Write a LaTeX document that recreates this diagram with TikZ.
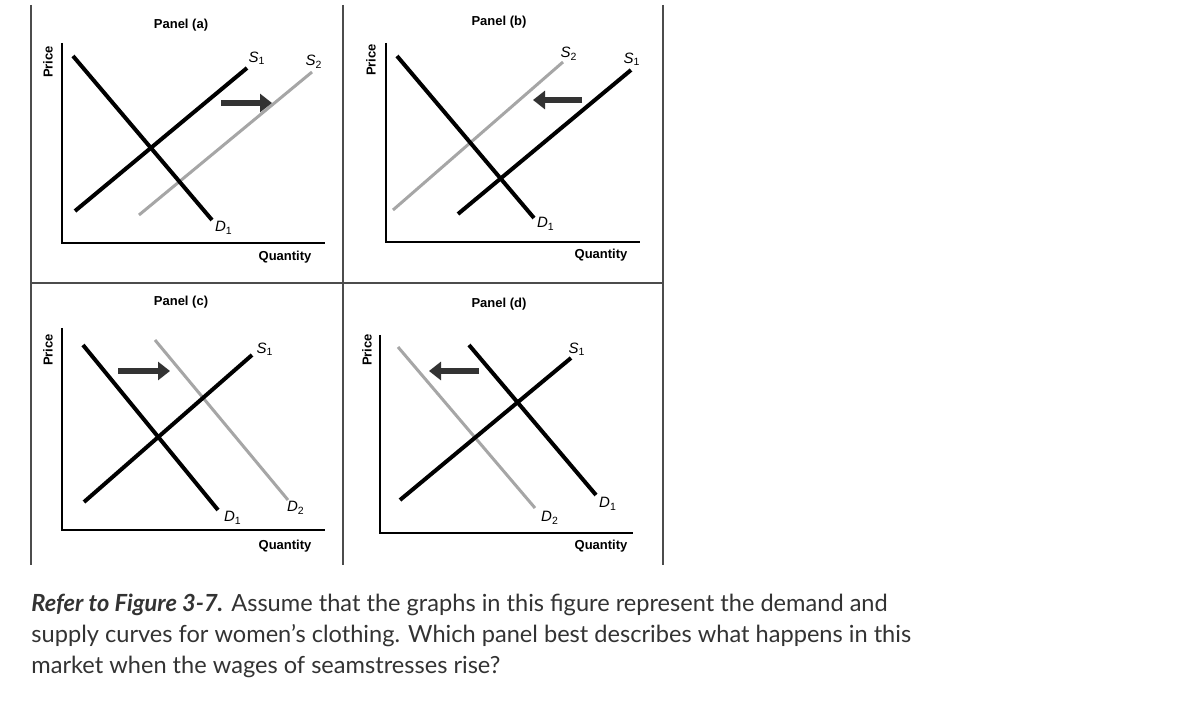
\documentclass[tikz,border=0pt]{standalone}
\usepackage{fontspec}
\setmainfont{Lato}
\newfontfamily\arial{Liberation Sans}
\usetikzlibrary{arrows.meta}
\tikzset{
  frame/.style={draw=black!70,line width=0.6pt},
  axis/.style={draw=black,line width=0.9pt},
  blk/.style={draw=black,line width=2pt},
  gry/.style={draw=black!35,line width=1.5pt},
  shiftarrow/.style={draw=black!80,line width=3.2pt,-{Triangle[length=6pt,width=9pt]}},
  ttl/.style={font=\arial\bfseries\fontsize{6.5}{7}\selectfont},
  lbl/.style={font=\arial\itshape\fontsize{7.5}{8}\selectfont},
  captxt/.style={anchor=west,font=\fontsize{11.8}{14}\selectfont,text=black!80,inner sep=0pt}
}
\newcommand{\sub}[2]{#1\textsubscript{\upshape #2}}
\begin{document}
\begin{tikzpicture}[x=0.5pt,y=-0.5pt]
\useasboundingbox (0,0) rectangle (1196,701);
\fill[white] (0,0) rectangle (1196,701);
% frames
\coordinate (f1) at (31,5); \coordinate (f2) at (31,565);
\coordinate (f3) at (343,5); \coordinate (f4) at (343,565);
\coordinate (f5) at (663,5); \coordinate (f6) at (663,565);
\coordinate (f7) at (31,283); \coordinate (f8) at (663,283);
\draw[frame] (f1)--(f2) (f3)--(f4) (f5)--(f6) (f7)--(f8);
% Panel (a)
\node[ttl] (ta) at (181,25) {Panel (a)};
\node[ttl,rotate=90] (pa) at (48,62) {Price};
\node[ttl] (qa) at (285,257) {Quantity};
\coordinate (ay) at (62,43); \coordinate (ao) at (62,243); \coordinate (ax) at (325,243);
\draw[axis] (ay)--(ao)--(ax);
\coordinate (ad1) at (73,56); \coordinate (ad2) at (212,220);
\coordinate (as1) at (75,211); \coordinate (as2) at (247,68);
\coordinate (at1) at (139,215); \coordinate (at2) at (312,72);
\draw[gry] (at1)--(at2);
\draw[blk] (ad1)--(ad2); \draw[blk] (as1)--(as2);
\coordinate (aa1) at (221,103); \coordinate (aa2) at (272,103);
\draw[shiftarrow] (aa1)--(aa2);
\node[lbl] (la1) at (257,58) {\sub{S}{1}};
\node[lbl] (la2) at (314,62) {\sub{S}{2}};
\node[lbl] (la3) at (224,228) {\sub{D}{1}};
% Panel (b)
\node[ttl] (tb) at (499,22) {Panel (b)};
\node[ttl,rotate=90] (pb) at (371,60) {Price};
\node[ttl] (qb) at (601,255) {Quantity};
\coordinate (by) at (386,43); \coordinate (bo) at (386,242); \coordinate (bx) at (640,242);
\draw[axis] (by)--(bo)--(bx);
\coordinate (bd1) at (397,56); \coordinate (bd2) at (534,218);
\coordinate (bt1) at (393,210); \coordinate (bt2) at (563,62);
\coordinate (bs1) at (458,214); \coordinate (bs2) at (631,70);
\draw[gry] (bt1)--(bt2);
\draw[blk] (bd1)--(bd2); \draw[blk] (bs1)--(bs2);
\coordinate (ba1) at (582,100); \coordinate (ba2) at (533,100);
\draw[shiftarrow] (ba1)--(ba2);
\node[lbl] (lb1) at (569,54) {\sub{S}{2}};
\node[lbl] (lb2) at (632,59) {\sub{S}{1}};
\node[lbl] (lb3) at (546,224) {\sub{D}{1}};
% Panel (c)
\node[ttl] (tc) at (181,302) {Panel (c)};
\node[ttl,rotate=90] (pc) at (48,350) {Price};
\node[ttl] (qc) at (285,546) {Quantity};
\coordinate (cy) at (62,328); \coordinate (co) at (62,530); \coordinate (cx) at (325,530);
\draw[axis] (cy)--(co)--(cx);
\coordinate (cd1) at (83,345); \coordinate (cd2) at (218,510);
\coordinate (cs1) at (84,502); \coordinate (cs2) at (252,355);
\coordinate (ct1) at (155,340); \coordinate (ct2) at (288,500);
\draw[gry] (ct1)--(ct2);
\draw[blk] (cd1)--(cd2); \draw[blk] (cs1)--(cs2);
\coordinate (ca1) at (118,371); \coordinate (ca2) at (170,371);
\draw[shiftarrow] (ca1)--(ca2);
\node[lbl] (lc1) at (265,349) {\sub{S}{1}};
\node[lbl] (lc2) at (296,508) {\sub{D}{2}};
\node[lbl] (lc3) at (233,518) {\sub{D}{1}};
% Panel (d)
\node[ttl] (td) at (499,304) {Panel (d)};
\node[ttl,rotate=90] (pd) at (367,350) {Price};
\node[ttl] (qd) at (601,546) {Quantity};
\coordinate (dy) at (380,335); \coordinate (do) at (380,533); \coordinate (dx) at (633,533);
\draw[axis] (dy)--(do)--(dx);
\coordinate (dt1) at (398,347); \coordinate (dt2) at (535,508);
\coordinate (dd1) at (469,345); \coordinate (dd2) at (596,495);
\coordinate (ds1) at (400,500); \coordinate (ds2) at (571,358);
\draw[gry] (dt1)--(dt2);
\draw[blk] (dd1)--(dd2); \draw[blk] (ds1)--(ds2);
\coordinate (da1) at (479,371); \coordinate (da2) at (429,371);
\draw[shiftarrow] (da1)--(da2);
\node[lbl] (ld1) at (577,349) {\sub{S}{1}};
\node[lbl] (ld2) at (608,504) {\sub{D}{1}};
\node[lbl] (ld3) at (550,518) {\sub{D}{2}};
% caption
\node[captxt] (c1) at (31,605) {\textbf{\textit{Refer to Figure 3-7.}} Assume that the graphs in this figure represent the demand and};
\node[captxt] (c2) at (31,636) {supply curves for women's clothing. Which panel best describes what happens in this};
\node[captxt] (c3) at (31,667) {market when the wages of seamstresses rise?};
\end{tikzpicture}
\end{document}
